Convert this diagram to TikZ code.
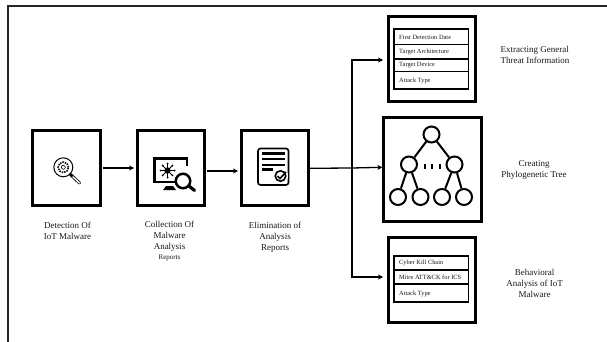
\documentclass[tikz,border=0pt]{standalone}
\usepackage{fontspec}
\setmainfont{Liberation Serif}
\usetikzlibrary{arrows.meta,calc}
\tikzset{
 x=1pt,y=-1pt,
 frameline/.style={line width=2pt,draw=black!85},
 bigbox/.style={draw=black,line width=3pt,fill=white},
 conn/.style={line width=1.3pt,draw=black,shorten >=2pt,-{Stealth[length=5pt,width=5pt]}},
 connb/.style={line width=1.3pt,draw=black,-{Stealth[length=5pt,width=5pt]}},
 trunk/.style={line width=1.3pt,draw=black,line cap=rect},
 lbl/.style={font=\fontsize{9}{11}\selectfont,align=center,text=black!90,inner sep=0pt},
 cell/.style={draw=black,line width=1.2pt,fill=white},
 celltxt/.style={font=\fontsize{6.4}{8}\selectfont,anchor=west,inner sep=0pt,text=black!90},
 tn/.style={circle,draw=black,line width=2pt,fill=white,minimum size=16pt,inner sep=0pt},
 te/.style={line width=2pt,draw=black}
}
\begin{document}
\begin{tikzpicture}
\useasboundingbox (0,0) rectangle (607,342);
\fill[white] (0,0) rectangle (607,342);
\coordinate (fa) at (7.5,342); \coordinate (fb) at (7.5,6.5); \coordinate (fc) at (607,6.5);
\draw[frameline] (fa) -- (fb) -- (fc);
% boxes
\node[bigbox,minimum width=68pt,minimum height=75pt,inner sep=0pt] (b1) at (66.3,167.8) {};
\node[bigbox,minimum width=67pt,minimum height=75pt,inner sep=0pt] (b2) at (171,167.8) {};
\node[bigbox,minimum width=67pt,minimum height=75pt,inner sep=0pt] (b3) at (275,167.8) {};
\node[bigbox,minimum width=87pt,minimum height=85pt,inner sep=0pt] (t) at (431.5,59.5) {};
\node[bigbox,minimum width=98pt,minimum height=103pt,inner sep=0pt] (m) at (432.8,169.5) {};
\node[bigbox,minimum width=87pt,minimum height=85pt,inner sep=0pt] (u) at (431.5,279.5) {};
% connectors
\draw[conn] (b1.east |- 0,168) ++(1,0) -- (b2.west |- 0,168);
\draw[conn] (b2.east |- 0,171) ++(1,0) -- (b3.west |- 0,171);
\coordinate (j) at (352,168);
\coordinate (jt) at (352,60);
\coordinate (ju) at (352,277);
\draw[trunk] (b3.east |- 0,168.3) -- (j);
\draw[trunk] (jt) -- (ju);
\draw[connb] (j) -- (m.west |- 0,167.3);
\draw[conn,shorten >=3.5pt] (jt) -- (t.west |- 0,60);
\draw[conn,shorten >=3.5pt] (ju) -- (u.west |- 0,277);
% icon 1
\node[circle,draw=black,line width=1pt,minimum size=19pt,inner sep=0pt] (g1) at (63.3,167.3) {};
\node[circle,draw=black,line width=1.5pt,densely dotted,minimum size=10.5pt,inner sep=0pt] (g2) at (g1.center) {};
\node[circle,draw=black,line width=.6pt,minimum size=4pt,inner sep=0pt] (g3) at (g1.center) {};
\coordinate (h1) at (g1.-45);
\coordinate (h2) at (79.5,183);
\draw[line width=3pt,black,line cap=round] (h1) -- (h2);
\draw[line width=1.4pt,white,line cap=round] ($(h1)!0.28!(h2)$) -- (h2);
% icon 2
\coordinate (sc) at (167.5,170.5);
\draw[line width=2.6pt,black] (187,166) -- (187,158.5) -- (154.5,158.5) -- (154.5,182) -- (175,182);
\fill (163,190) -- (166,186) -- (173,186) -- (176,190) -- cycle;
\foreach \a in {0,45,...,315}{\draw[line width=1pt,black] (sc) -- ++(\a:7);\fill (sc) ++(\a:7) circle (1pt);}
\fill (sc) circle (3.2pt);
\node[circle,draw=black,line width=2.5pt,fill=white,minimum size=14.5pt,inner sep=0pt] (mg) at (183,181) {};
\coordinate (mh) at (194.5,190.5);
\draw[line width=3.2pt,black,line cap=round] (mg.-40) -- (mh);
% icon 3
\draw[line width=1.6pt,black,rounded corners=2.5pt,fill=white] (258,148.5) rectangle (288.5,185);
\foreach \yy/\xe in {153.5/285,159/285,165/285}{\draw[line width=2.2pt,black] (262,\yy) -- (\xe,\yy);}
\draw[line width=2.2pt,black] (262,169.5) -- (273,169.5);
\fill[white] (280.5,176) circle (7.5pt);
\node[circle,draw=black,line width=1.6pt,minimum size=10.5pt,inner sep=0pt] (ck) at (280.5,176) {};
\draw[line width=1.6pt,black] (277.5,176) -- (280,178.5) -- (286,172);
% table top
\draw[cell] (394,29) rectangle (468.7,44.5);
\draw[cell] (394,44.5) rectangle (468.7,59);
\draw[cell] (394,59) rectangle (468.7,71.7);
\draw[cell] (394,71.7) rectangle (468.7,89);
\node[celltxt] (c1) at (399,37) {First Detection Date};
\node[celltxt] (c2) at (399,52) {Target Architecture};
\node[celltxt] (c3) at (399,65.5) {Target Device};
\node[celltxt] (c4) at (399,80.5) {Attack Type};
% table bottom
\draw[cell] (394,256) rectangle (468.7,270);
\draw[cell] (394,270) rectangle (468.7,284);
\draw[cell] (394,284) rectangle (468.7,302);
\node[celltxt] (d1) at (399,263) {Cyber Kill Chain};
\node[celltxt] (d2) at (399,277) {Mitre ATT\&CK for ICS};
\node[celltxt] (d3) at (399,293.5) {Attack Type};
% tree
\node[tn] (r) at (431.5,134.5) {};
\node[tn] (l) at (409,164.5) {};
\node[tn] (q) at (454.5,164.5) {};
\node[tn] (a) at (398,197) {};
\node[tn] (b) at (420.5,197) {};
\node[tn] (c) at (442,197) {};
\node[tn] (e) at (464,197) {};
\draw[te] (r) -- (l); \draw[te] (r) -- (q);
\draw[te] (l) -- (a); \draw[te] (l) -- (b);
\draw[te] (q) -- (c); \draw[te] (q) -- (e);
\foreach \xx in {424.5,432,439.5}{\fill (\xx-1,163.5) rectangle (\xx+1,168.5);}
% labels
\node[lbl] (n1) at (67.5,231) {Detection Of\\IoT Malware};
\node[lbl] (n2) at (169.5,236) {Collection Of\\Malware\\Analysis};
\node[lbl,font=\fontsize{7}{8}\selectfont] (n2b) at (169.5,258) {Reports};
\node[lbl] (n3) at (275,237) {Elimination of\\Analysis\\Reports};
\node[lbl,align=left,anchor=west] (n4) at (500.5,55) {Extracting General\\Threat Information};
\node[lbl] (n5) at (534,169.5) {Creating\\Phylogenetic Tree};
\node[lbl] (n6) at (534.5,283) {Behavioral\\Analysis of IoT\\Malware};
\end{tikzpicture}
\end{document}
